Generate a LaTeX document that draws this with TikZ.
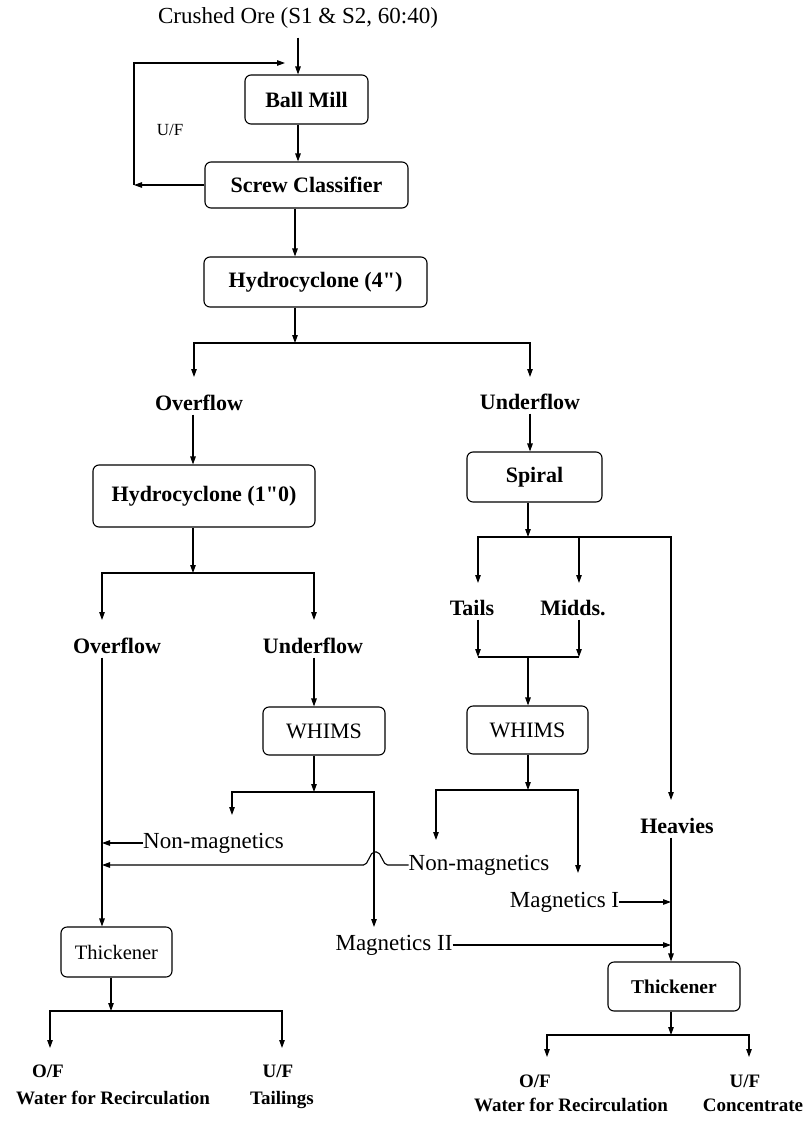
\documentclass[tikz,border=0pt]{standalone}
\usepackage{fontspec}
\setmainfont{Liberation Serif}[Ligatures=TeXOff]
\usetikzlibrary{arrows.meta}
\begin{document}
\begin{tikzpicture}[x=1pt,y=-1pt,
  box/.style={draw, rounded corners=6pt, line width=1.1pt, inner sep=0pt, align=center},
  bb/.style={font=\bfseries\fontsize{22}{26}\selectfont},
  rb/.style={font=\fontsize{22}{26}\selectfont},
  bl/.style={inner sep=0pt, font=\bfseries\fontsize{22}{26}\selectfont, text height=15pt, text depth=4pt},
  rl/.style={inner sep=0pt, font=\fontsize{23}{27}\selectfont, text height=15pt, text depth=4pt},
  sl/.style={inner sep=0pt, font=\bfseries\fontsize{19}{22}\selectfont, text height=13pt, text depth=4pt},
  arr/.style={-{Triangle[length=8pt,width=5.5pt]}, line width=1.1pt},
  ln/.style={line width=1.1pt}]
\useasboundingbox (0,0) rectangle (806,1122);

% ---- top part
\node[rl] (crushed) at (298,18) {Crushed Ore (S1 \& S2, 60:40)};
\node[box, bb, minimum width=123pt, minimum height=49pt] (ballmill) at (306.5,99.5) {Ball Mill};
\node[box, bb, minimum width=203pt, minimum height=46pt] (screw) at (306.5,185) {Screw Classifier};
\node[inner sep=0pt, font=\fontsize{17}{20}\selectfont] (uf0) at (170,130) {U/F};
\node[box, bb, minimum width=223pt, minimum height=50pt] (hc4) at (315.5,282) {Hydrocyclone (4\symbol{34})};
\coordinate (lp1) at (134,185);
\coordinate (lp3) at (285,63);
\coordinate (j1) at (295,343);
\coordinate (t1) at (194,377);
\coordinate (t2) at (530,377);

% ---- left branch
\node[bl] (ov1) at (199,405) {Overflow};
\node[box, bb, minimum width=222pt, minimum height=62pt] (hc1) at (204,496) {Hydrocyclone (1\symbol{34}0)};
\coordinate (j2) at (193,573);
\coordinate (t3) at (102,620);
\coordinate (t4) at (314,620);
\node[bl] (ov2) at (117,648) {Overflow};
\node[bl] (un2) at (313,648) {Underflow};
\node[box, rb, minimum width=122pt, minimum height=48pt] (whims1) at (324,731) {WHIMS};
\coordinate (j3) at (314,792);
\coordinate (t5) at (232,815);
\coordinate (t6) at (374,927);
\node[rl] (nm1) at (213.5,843) {Non-magnetics};
\node[rl] (nm2) at (479,865) {Non-magnetics};
\node[rl] (mag2) at (394,945) {Magnetics II};
\node[box, font=\fontsize{20.5}{24}\selectfont, minimum width=111pt, minimum height=50pt] (thick1) at (116.5,952) {Thickener};
\coordinate (j7) at (111,1011);
\coordinate (t7) at (50,1048);
\coordinate (t8) at (282,1048);
\node[sl] (of1) at (48,1073) {O/F};
\node[sl] (wr1) at (113,1100) {Water for Recirculation};
\node[sl] (uf1) at (278,1073) {U/F};
\node[sl] (tail) at (282,1100) {Tailings};

% ---- right branch
\node[bl] (un1) at (530,404) {Underflow};
\node[box, bb, minimum width=135pt, minimum height=50pt] (spiral) at (534.5,477) {Spiral};
\coordinate (j4) at (528,537);
\coordinate (t9) at (478,583);
\coordinate (t10) at (579,583);
\coordinate (t11) at (671,800);
\node[bl] (tails) at (472,610) {Tails};
\node[bl] (midds) at (573,610) {Midds.};
\coordinate (j5) at (528,657);
\node[box, rb, minimum width=121pt, minimum height=48pt] (whims2) at (527.5,730) {WHIMS};
\coordinate (j6) at (528,790);
\coordinate (t14) at (436,840);
\coordinate (t15) at (578,873);
\node[bl] (heavies) at (677,828) {Heavies};
\node[rl] (mag1) at (564.5,902) {Magnetics I};
\node[box, font=\bfseries\fontsize{19.5}{23}\selectfont, minimum width=132pt, minimum height=49pt] (thick2) at (674,986.5) {Thickener};
\coordinate (j8) at (671,1035);
\coordinate (t16) at (547,1057);
\coordinate (t17) at (749,1057);
\node[sl] (of2) at (535,1083) {O/F};
\node[sl] (wr2) at (571,1107) {Water for Recirculation};
\node[sl] (uf2) at (745,1083) {U/F};
\node[sl] (conc) at (753,1107) {Concentrate};

% ---- connectors: top
\draw[arr, shorten <=10pt] (crushed.south) -- (crushed.south |- ballmill.north);
\draw[arr] (ballmill.south -| crushed) -- (screw.north -| crushed);
\draw[arr] (screw.west) -- (lp1);
\draw[arr] (lp1) |- (lp3);
\draw[arr] (screw.south -| j1) -- (hc4.north -| j1);
\draw[arr] (hc4.south -| j1) -- (j1);
\draw[arr] (j1) -| (t1);
\draw[arr] (j1) -| (t2);

% ---- connectors: left
\draw[arr] (ov1.south -| j2) -- (hc1.north -| j2);
\draw[arr] (hc1.south -| j2) -- (j2);
\draw[arr] (j2) -| (t3);
\draw[arr] (j2) -| (t4);
\draw[arr] (ov2.south -| t3) -- (thick1.north -| t3);
\draw[arr] (un2.south -| t4) -- (whims1.north -| t4);
\draw[arr] (whims1.south -| j3) -- (j3);
\draw[arr] (j3) -| (t5);
\draw[arr] (j3) -| (t6);
\draw[arr] (nm1.west) -- (nm1.west -| t3);
\draw[arr, rounded corners=2pt] (nm2.west) -- ++(-23,0) -- ++(-7,-13) -- ++(-6,0) -- ++(-7,13) -- (nm2.west -| t3);
\draw[arr] (thick1.south -| j7) -- (j7);
\draw[arr] (j7) -| (t7);
\draw[arr] (j7) -| (t8);

% ---- connectors: right
\draw[arr] (un1.south -| t2) -- (spiral.north -| t2);
\draw[arr] (spiral.south -| j4) -- (j4);
\draw[arr] (j4) -| (t9);
\draw[arr] (j4) -| (t10);
\draw[arr] (j4) -| (t11);
\draw[arr] (tails.south -| t9) -- (t9 |- j5);
\draw[arr] (midds.south -| t10) -- (t10 |- j5);
\draw[ln] (t9 |- j5) -- (t10 |- j5);
\draw[arr] (j5) -- (whims2.north -| j5);
\draw[arr] (whims2.south -| j6) -- (j6);
\draw[arr] (j6) -| (t14);
\draw[arr] (j6) -| (t15);
\draw[arr] (heavies.south -| t11) -- (thick2.north -| t11);
\draw[arr] (mag1.east) -- (mag1.east -| t11);
\draw[arr] (mag2.east) -- (mag2.east -| t11);
\draw[arr] (thick2.south -| j8) -- (j8);
\draw[arr] (j8) -| (t16);
\draw[arr] (j8) -| (t17);
\end{tikzpicture}
\end{document}
